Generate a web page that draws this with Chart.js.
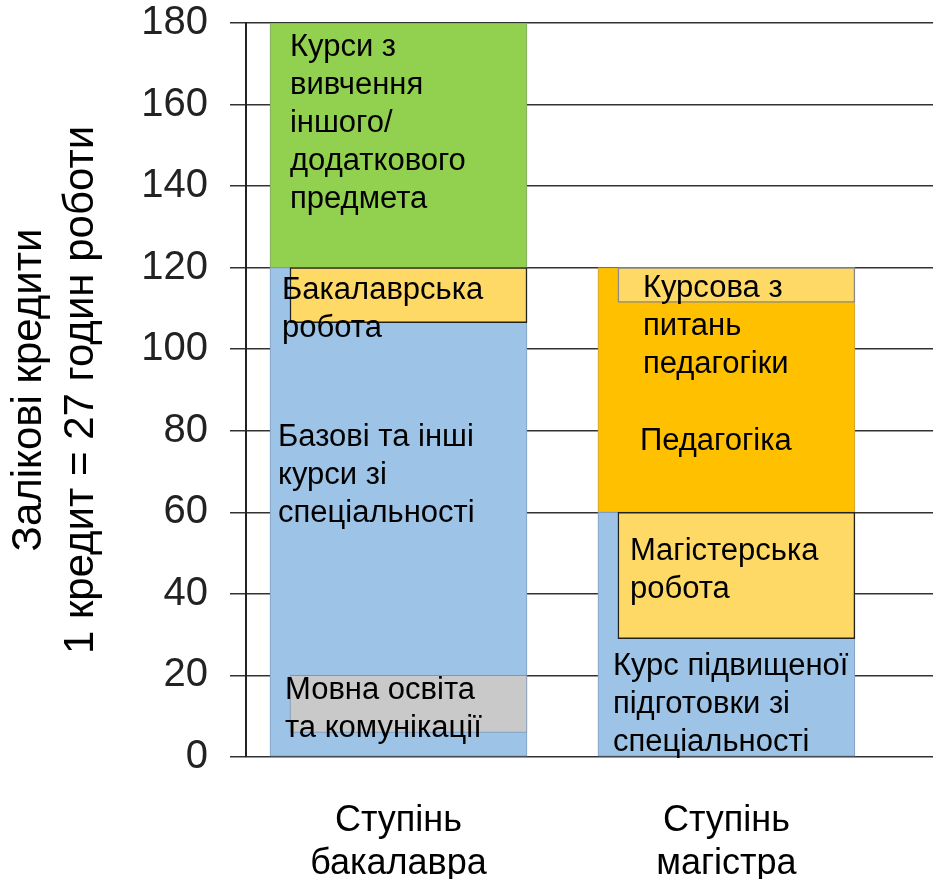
<!DOCTYPE html>
<html lang="uk">
<head>
<meta charset="utf-8">
<title>Залікові кредити</title>
<script src="https://cdn.jsdelivr.net/npm/chart.js@4.4.1/dist/chart.umd.min.js"></script>
<style>
  html, body { margin: 0; padding: 0; background: #fff; }
  canvas { display: block; }
</style>
</head>
<body>
<canvas id="chart" width="933" height="879"></canvas>
<script>
// ступені (підписи осі x) та їх місце на осі
const stages = [['Ступінь', 'бакалавра'], ['Ступінь', 'магістра']];
const stageX = [1, 2];

// сегменти стовпців: [від, до] у кредитах, null - немає сегмента
const specialtyCourses = [[0, 120], [0, 60]];
const otherSubjectCourses = [[120, 180], null];
const pedagogy = [null, [60, 120]];
const bachelorThesis = [[106.5, 120], null];
const languageCourses = [[6, 20], null];
const pedagogyCoursework = [null, [111.5, 120]];
const masterThesis = [null, [29, 60]];

// написи всередині стовпців: ступінь, рівень першого рядка (кредити), рядки
const boxTexts = [
  [0, 174, ['Курси з', 'вивчення', 'іншого/', 'додаткового', 'предмета']],
  [0, 114.5, ['Бакалаврська', 'робота']],
  [0, 78.3, ['Базові та інші', 'курси зі', 'спеціальності']],
  [0, 16.4, ['Мовна освіта', 'та комунікації']],
  [1, 114.8, ['Курсова з', 'питань', 'педагогіки']],
  [1, 77.5, ['Педагогіка']],
  [1, 50.5, ['Магістерська', 'робота']],
  [1, 22.1, ['Курс підвищеної', 'підготовки зі', 'спеціальності']]
];
// відступ напису від лівого краю стовпця, px
const boxTextIndent = [20, 12, 8, 15, 45, 42, 32, 15];

const FONT = "'Liberation Sans', Arial, sans-serif";
const BAR_W = 257;
const INSET_W = 237;

const toPoints = (arr) => arr
    .map((v, i) => v ? { x: stageX[i], y: v } : null)
    .filter(p => p);

const mainBar = (label, arr, color, border) => ({
    label, data: toPoints(arr), backgroundColor: color,
    borderColor: border, borderWidth: 1, borderSkipped: false,
    barThickness: BAR_W, grouped: false, order: 2
});
const insetBar = (label, arr, color, border, bw) => ({
    label, data: toPoints(arr), backgroundColor: color,
    borderColor: border, borderWidth: bw, borderSkipped: false,
    barThickness: INSET_W, grouped: false, order: 1, inset: true
});

// вкладені прямокутники притиснуті до правого краю стовпця
const insetShift = {
    id: 'insetShift',
    afterDatasetsUpdate(chart) {
        const shift = (BAR_W - INSET_W) / 2;
        chart.data.datasets.forEach((ds, i) => {
            if (!ds.inset) return;
            chart.getDatasetMeta(i).data.forEach(bar => { bar.x += shift; });
        });
    }
};

const boxLabels = {
    id: 'boxLabels',
    afterDatasetsDraw(chart) {
        const { ctx, scales: { x, y } } = chart;
        ctx.save();
        ctx.font = `31px ${FONT}`;
        ctx.fillStyle = '#000';
        ctx.textAlign = 'left';
        ctx.textBaseline = 'middle';
        boxTexts.forEach(([stage, level, lines], k) => {
            const left = x.getPixelForValue(stageX[stage]) - BAR_W / 2 + boxTextIndent[k];
            const top = y.getPixelForValue(level);
            lines.forEach((line, j) => ctx.fillText(line, left, top + j * 38));
        });
        ctx.restore();
    }
};

new Chart(document.getElementById('chart'), {
    type: 'bar',
    data: {
        datasets: [
            insetBar('Бакалаврська робота', bachelorThesis, '#FFD966', '#222', 1.5),
            insetBar('Мовна освіта та комунікації', languageCourses, '#C9C9C9', '#7d97b8', 1),
            insetBar('Курсова з питань педагогіки', pedagogyCoursework, '#FFD966', '#8a8a8a', 1.5),
            insetBar('Магістерська робота', masterThesis, '#FFD966', '#222', 1.5),
            mainBar('Курси зі спеціальності', specialtyCourses, '#9DC3E6', '#7f9cc0'),
            mainBar('Курси з іншого предмета', otherSubjectCourses, '#92D050', '#7ea868'),
            mainBar('Педагогіка', pedagogy, '#FFC000', '#c9a040')
        ]
    },
    options: {
        responsive: false,
        animation: false,
        layout: { padding: { top: 23, right: 0, left: 0, bottom: 0 } },
        plugins: {
            legend: { display: false },
            tooltip: { enabled: false }
        },
        scales: {
            x: {
                type: 'linear',
                offset: false,
                min: 0.535,
                max: 2.63,
                afterFit: (scale) => { scale.height = 122; },
                afterBuildTicks: (scale) => { scale.ticks = stageX.map(v => ({ value: v })); },
                grid: { display: false },
                border: { display: false },
                ticks: {
                    padding: 34,
                    color: '#000',
                    font: { family: FONT, size: 36, lineHeight: 1.2 },
                    callback: (v) => stages[stageX.indexOf(v)] || ''
                }
            },
            y: {
                min: 0,
                max: 180,
                afterFit: (scale) => {
                    scale.width = 246;
                    scale.paddingTop = 0;
                    scale.paddingBottom = 0;
                },
                grid: { color: '#333', lineWidth: 1.5, tickLength: 16 },
                border: { color: '#222', width: 2 },
                ticks: {
                    stepSize: 20,
                    padding: 22,
                    color: '#222',
                    font: { family: FONT, size: 40, lineHeight: 1 }
                },
                title: {
                    display: true,
                    text: ['Залікові кредити', '1 кредит = 27 годин роботи'],
                    color: '#000',
                    padding: { top: 3, bottom: 0 },
                    font: { family: FONT, size: 42, lineHeight: 1.25 }
                }
            }
        }
    },
    plugins: [insetShift, boxLabels]
});
</script>
</body>
</html>
